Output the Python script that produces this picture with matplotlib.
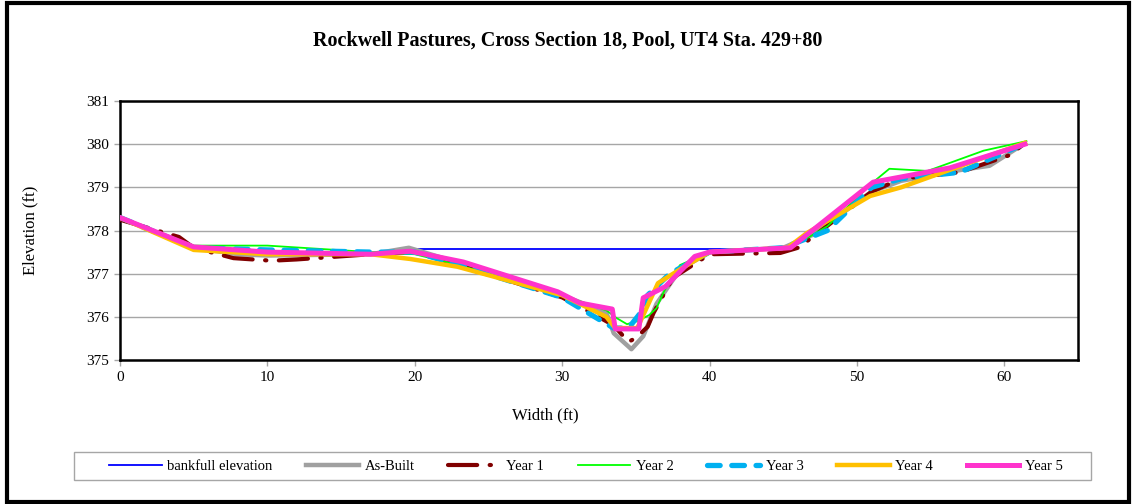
import matplotlib
matplotlib.use("Agg")
import matplotlib.pyplot as plt
from matplotlib.patches import Rectangle

plt.rcParams['font.family'] = ['Liberation Serif', 'DejaVu Serif']

title = "Rockwell Pastures, Cross Section 18, Pool, UT4 Sta. 429+80"

bankfull_x = [19.6, 45.5]
bankfull_y = [377.57, 377.57]

asbuilt_x = [0, 5, 8, 10, 17, 19.6, 23, 30, 33.0, 33.5, 34.7, 35.5, 36.4, 38, 40, 45, 47, 51, 53, 57, 59, 61.3]
asbuilt_y = [378.3, 377.6, 377.45, 377.42, 377.45, 377.6, 377.25, 376.5, 376.1, 375.62, 375.25, 375.55, 376.3, 377.1, 377.5, 377.6, 377.9, 378.9, 379.15, 379.4, 379.5, 380.0]

year1_x = [0, 4, 5, 7.7, 10.3, 12, 17, 20, 23, 30, 31.9, 33.5, 34.5, 35.0, 35.8, 36.2, 37.5, 40, 44.8, 46, 47.2, 51, 53, 57, 60.4, 61.3]
year1_y = [378.25, 377.85, 377.6, 377.36, 377.3, 377.33, 377.45, 377.5, 377.2, 376.45, 376.11, 375.8, 375.42, 375.51, 375.77, 376.09, 376.9, 377.45, 377.48, 377.6, 377.9, 378.9, 379.2, 379.35, 379.75, 380.0]

year2_x = [0, 5, 10, 17, 20, 23, 30, 33, 33.7, 34.4, 35.1, 35.9, 36.4, 36.9, 37.5, 38, 40, 45.5, 48, 51.1, 52.2, 54.8, 58.6, 61.5]
year2_y = [378.3, 377.65, 377.65, 377.5, 377.45, 377.2, 376.5, 376.15, 375.97, 375.83, 375.9, 376.04, 376.2, 376.58, 376.95, 377.2, 377.5, 377.6, 378.1, 379.12, 379.43, 379.38, 379.85, 380.07]

year3_x = [0, 5, 10, 17, 20, 23, 30, 32.8, 33.5, 34.5, 35.2, 35.8, 37.3, 40, 45, 48, 51, 53, 57, 61.3]
year3_y = [378.3, 377.6, 377.55, 377.5, 377.5, 377.2, 376.45, 375.88, 375.74, 375.74, 376.04, 376.5, 377.0, 377.5, 377.6, 378.0, 379.0, 379.2, 379.35, 380.0]

year4_x = [0, 5, 10, 17, 19.7, 22.9, 30, 33.0, 33.6, 35.1, 36.5, 38, 40, 45.3, 46.6, 50.9, 53, 61.4]
year4_y = [378.3, 377.55, 377.45, 377.45, 377.34, 377.16, 376.5, 376.0, 375.74, 375.74, 376.78, 377.1, 377.5, 377.6, 377.94, 378.8, 379.0, 380.03]

year5_x = [0, 5, 10, 17, 19.7, 23.3, 29.7, 31.2, 33.4, 33.6, 35.2, 35.5, 37, 39, 40, 45.5, 51.1, 56.3, 61.4]
year5_y = [378.3, 377.62, 377.5, 377.45, 377.52, 377.27, 376.58, 376.32, 376.18, 375.72, 375.72, 376.44, 376.7, 377.4, 377.5, 377.6, 379.12, 379.45, 380.0]

xticks = [0, 10, 20, 30, 40, 50, 60]
yticks = [375, 376, 377, 378, 379, 380, 381]

W, H = 1132, 504
fig = plt.figure(figsize=(W / 100, H / 100), dpi=100)
ax = fig.add_axes([120 / W, 1 - 360 / H, (1078 - 120) / W, (360 - 101) / H])

ax.set_xlim(0, 65)
ax.set_ylim(375, 381)
ax.set_xticks(xticks)
ax.set_yticks(yticks)
ax.yaxis.grid(True, color='#a6a6a6', lw=1.0)
ax.set_axisbelow(True)

ax.plot(bankfull_x, bankfull_y, color='#0000ff', lw=1.3, label='bankfull elevation', zorder=3)
ax.plot(asbuilt_x, asbuilt_y, color='#a0a0a0', lw=3.2, label='As-Built', zorder=3)
ax.plot(year1_x, year1_y, color='#800000', lw=3.0, dashes=(7, 3, 0.3, 3), dash_capstyle='round',
        label='Year 1', zorder=4)
ax.plot(year2_x, year2_y, color='#00ff00', lw=1.3, label='Year 2', zorder=5)
ax.plot(year3_x, year3_y, color='#00b0f0', lw=3.8, dashes=(2.4, 2.2), dash_capstyle='round',
        label='Year 3', zorder=5)
ax.plot(year4_x, year4_y, color='#ffc000', lw=3.2, label='Year 4', zorder=6)
ax.plot(year5_x, year5_y, color='#ff33cc', lw=3.6, label='Year 5', zorder=7)

for s in ax.spines.values():
    s.set_color('black')
    s.set_linewidth(1.8)
ax.tick_params(axis='both', direction='out', length=4, width=1, color='#a6a6a6',
               labelsize=11, pad=4)

ax.set_xlabel('Width (ft)', fontsize=12)
ax.set_ylabel('Elevation (ft)', fontsize=12)
ax.xaxis.set_label_coords((545 - 120) / 958, (360 - 415) / 259)
ax.yaxis.set_label_coords((30 - 120) / 958, 0.5)
ax.xaxis.label.set_va('center')
ax.yaxis.label.set_va('center')

fig.text(568 / W, 1 - 41 / H, title, ha='center', va='center', fontsize=14.5, fontweight='bold')

leg = fig.legend(loc='center', bbox_to_anchor=(586 / W, 1 - 466 / H), ncol=7,
                 fontsize=10.5, frameon=False, handlelength=3.6,
                 columnspacing=2.3, handletextpad=0.4, borderpad=0.3)

# legend frame and outer chart border
fig.patches.append(Rectangle((74 / W, 1 - 480 / H), (1091 - 74) / W, 28 / H, transform=fig.transFigure,
                             fill=False, edgecolor='#a6a6a6', lw=1.0))
fig.patches.append(Rectangle((7 / W, 2 / H), 1122 / W, 499 / H, transform=fig.transFigure,
                             fill=False, edgecolor='black', lw=3))

fig.savefig('out.png', dpi=100)
